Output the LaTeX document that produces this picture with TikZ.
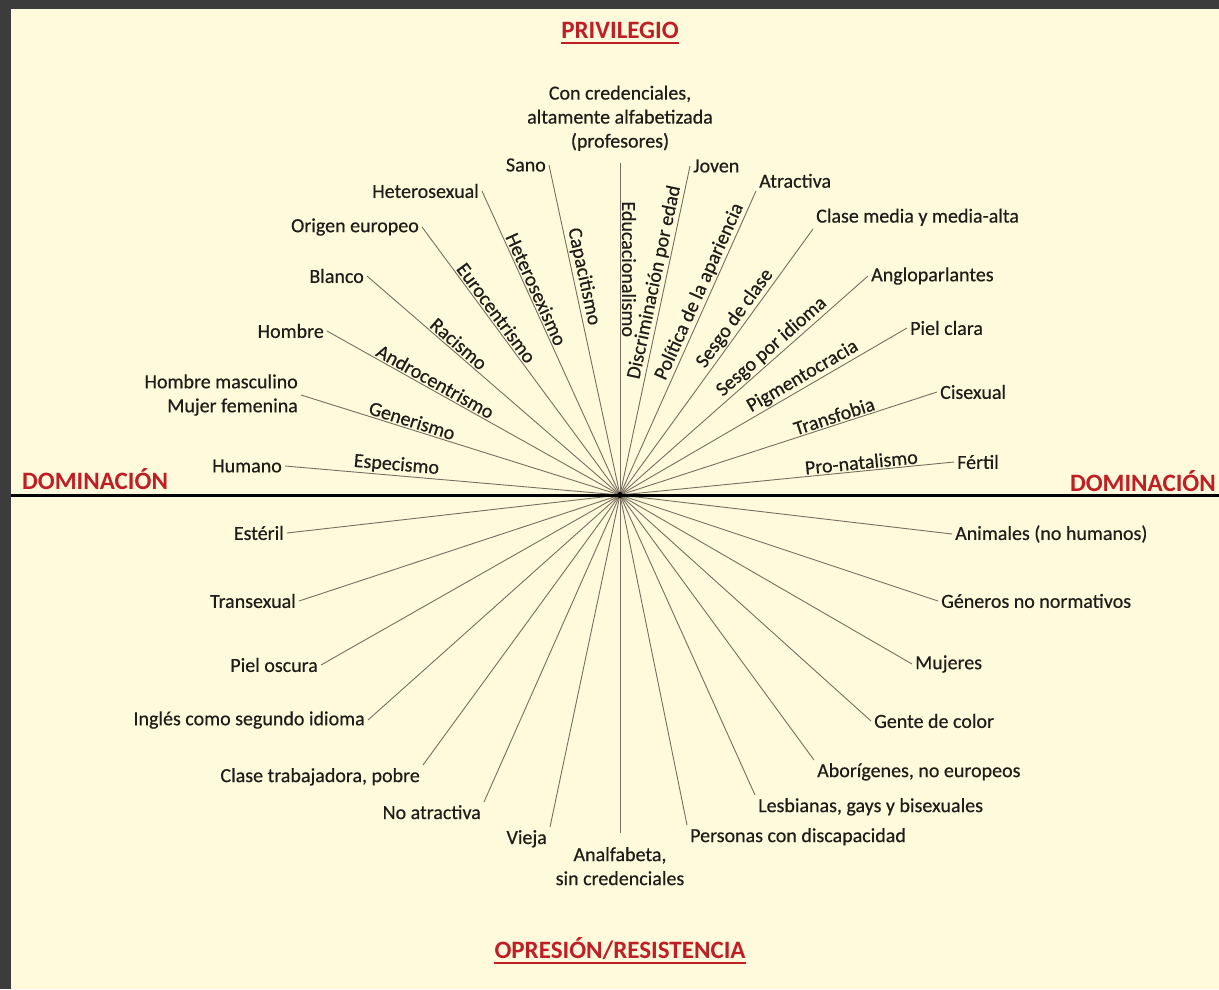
\documentclass[tikz,border=0pt]{standalone}
\usepackage{fontspec}
\setmainfont{Carlito}
\newfontfamily\labelfont{Carlito}[FakeBold=0.45]
\definecolor{paper}{RGB}{255,250,220}
\definecolor{frame}{RGB}{60,60,60}
\definecolor{titlered}{RGB}{190,30,36}
\definecolor{raygray}{RGB}{120,110,96}
\definecolor{ink}{RGB}{32,28,24}
\tikzset{
  lbl/.style={font=\labelfont\fontsize{20}{24}\selectfont, text=ink, inner sep=3pt},
  ismofont/.style={font=\labelfont\fontsize{20}{24}\selectfont, text=ink, inner sep=1.5pt},
  ismo/.style={ismofont, sloped, above},
  ray/.style={draw=raygray, line width=0.9pt},
  heading/.style={font=\fontsize{25}{30}\selectfont\bfseries, text=titlered, inner sep=0pt},
  headline/.style={draw=titlered, line width=2pt}
}
\begin{document}
\begin{tikzpicture}[x=1pt,y=-1pt]
\fill[frame] (0,0) rectangle (1219,989);
\fill[paper] (11,9) rectangle (1219,989);
\useasboundingbox (0,0) rectangle (1219,989);
\coordinate (c) at (620,495);

\node[lbl, anchor=east] (humano) at (285,466) {Humano};
\node[lbl, anchor=east, align=right] (hombremujer) at (301,395) {Hombre masculino\\Mujer femenina};
\node[lbl, anchor=east] (hombre) at (327,331) {Hombre};
\node[lbl, anchor=east] (blanco) at (367,276) {Blanco};
\node[lbl, anchor=east] (origen) at (422,227) {Origen europeo};
\node[lbl, anchor=east] (hetero) at (482,191) {Heterosexual};
\node[lbl, anchor=east] (sano) at (549,165) {Sano};
\node[lbl, anchor=south, align=center, inner ysep=12pt] (cred) at (620,163) {Con credenciales,\\altamente alfabetizada\\(profesores)};
\node[lbl, anchor=west] (joven) at (690,166) {Joven};
\node[lbl, anchor=south west] (atractiva) at (756,191) {Atractiva};
\node[lbl, anchor=south west] (clase) at (813,229) {Clase media y media-alta};
\node[lbl, anchor=west] (anglo) at (868,276) {Angloparlantes};
\node[lbl, anchor=west] (pielclara) at (907,328) {Piel clara};
\node[lbl, anchor=west] (cisexual) at (937,392) {Cisexual};
\node[lbl, anchor=west] (fertil) at (954,462) {Fértil};

\node[lbl, anchor=east] (esteril) at (287,533) {Estéril};
\node[lbl, anchor=east] (transexual) at (299,601) {Transexual};
\node[lbl, anchor=east] (pieloscura) at (321,665) {Piel oscura};
\node[lbl, anchor=east] (ingles) at (368,720) {Inglés como segundo idioma};
\node[lbl, anchor=north east] (trabajadora) at (423,765) {Clase trabajadora, pobre};
\node[lbl, anchor=north east] (noatractiva) at (484,802) {No atractiva};
\node[lbl, anchor=north east] (vieja) at (550,827) {Vieja};
\node[lbl, anchor=north, align=center, inner ysep=14pt] (analfabeta) at (620,833) {Analfabeta,\\sin credenciales};
\node[lbl, anchor=north west] (discapacidad) at (687,825) {Personas con discapacidad};
\node[lbl, anchor=north west] (lgb) at (755,795) {Lesbianas, gays y bisexuales};
\node[lbl, anchor=north west] (aborigenes) at (814,760) {Aborígenes, no europeos};
\node[lbl, anchor=west] (gente) at (871,721) {Gente de color};
\node[lbl, anchor=west] (mujeres) at (912,664) {Mujeres};
\node[lbl, anchor=west] (generos) at (938,601) {Géneros no normativos};
\node[lbl, anchor=west] (animales) at (952,534) {Animales (no humanos)};

\draw[ray] (humano.east) -- node[ismo, pos=.33] (especismo) {Especismo} (c);
\draw[ray] (hombremujer.east) -- node[ismo, pos=.34] (generismo) {Generismo} (c);
\draw[ray] (hombre.east) -- node[ismo, pos=.355] (androcentrismo) {Androcentrismo} (c);
\draw[ray] (blanco.east) -- node[ismo, pos=.34] (racismo) {Racismo} (c);
\draw[ray] (origen.east) -- node[ismo, pos=.34] (eurocentrismo) {Eurocentrismo} (c);
\draw[ray] (hetero.east) -- node[ismo, pos=.335] (heterosexismo) {Heterosexismo} (c);
\draw[ray] (sano.east) -- node[ismo, pos=.345] (capacitismo) {Capacitismo} (c);
\draw[ray] (cred.south) -- node[ismofont, pos=.32, rotate=-90, anchor=south] (educacionalismo) {Educacionalismo} (c);
\draw[ray] (joven.west) -- node[ismo, pos=.36] (edad) {Discriminación por edad} (c);
\draw[ray] (atractiva.south west) -- node[ismo, pos=.345] (apariencia) {Política de la apariencia} (c);
\draw[ray] (clase.south west) -- node[ismo, pos=.36] (sesgoclase) {Sesgo de clase} (c);
\draw[ray] (anglo.west) -- node[ismo, pos=.36] (sesgoidioma) {Sesgo por idioma} (c);
\draw[ray] (pielclara.west) -- node[ismo, pos=.345] (pigmentocracia) {Pigmentocracia} (c);
\draw[ray] (cisexual.west) -- node[ismo, pos=.316] (transfobia) {Transfobia} (c);
\draw[ray] (fertil.west) -- node[ismo, pos=.275] (pronatalismo) {Pro-natalismo} (c);

\foreach \n/\a in {esteril/east, transexual/east, pieloscura/east, ingles/east,
    trabajadora/north east, noatractiva/north east, vieja/north east, analfabeta/north,
    discapacidad/north west, lgb/north west, aborigenes/north west, gente/west,
    mujeres/west, generos/west, animales/west}
  \draw[ray] (\n.\a) -- (c);

\draw[line width=3pt] (11,495) -- (1219,495);
\fill (c) circle[radius=3pt];

\node[heading, anchor=base] (privilegio) at (620,38) {PRIVILEGIO};
\draw[headline] ([yshift=-5pt]privilegio.base west) -- ([yshift=-5pt]privilegio.base east);
\node[heading, anchor=base] (opresion) at (620,958) {OPRESIÓN/RESISTENCIA};
\draw[headline] ([yshift=-5pt]opresion.base west) -- ([yshift=-5pt]opresion.base east);
\node[heading, anchor=base west] (domizq) at (22,489) {DOMINACIÓN};
\node[heading, anchor=base east] (domder) at (1216,491) {DOMINACIÓN};
\end{tikzpicture}
\end{document}
